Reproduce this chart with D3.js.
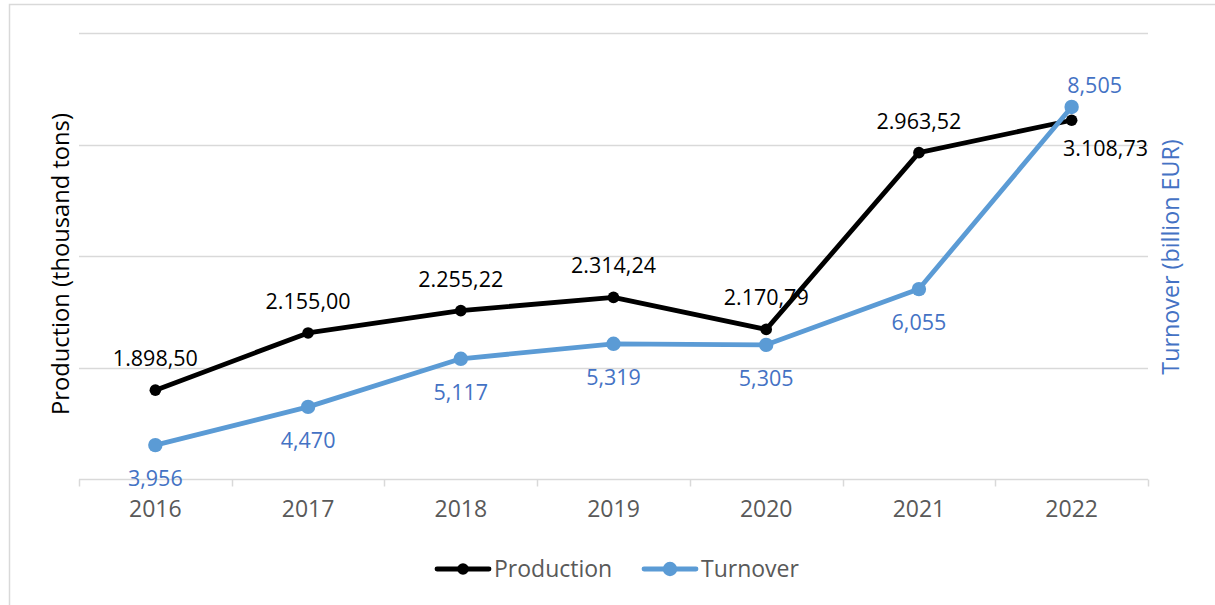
<!DOCTYPE html>
<html>
<head>
<meta charset="utf-8">
<script src="https://cdn.jsdelivr.net/npm/d3@7"></script>
<style>
  html, body { margin: 0; padding: 0; background: #fff; }
  svg { display: block; font-family: "Open Sans", "Noto Sans", sans-serif; }
</style>
</head>
<body>
<svg id="chart" width="1215" height="605"></svg>
<script>
// Annual production (thousand tons) and turnover (billion EUR)
const years = ["2016", "2017", "2018", "2019", "2020", "2021", "2022"];
const production = [1898.50, 2155.00, 2255.22, 2314.24, 2170.79, 2963.52, 3108.73];
const turnover = [3.956, 4.470, 5.117, 5.319, 5.305, 6.055, 8.505];
const productionTicks = [1500, 2000, 2500, 3000, 3500];
const turnoverTicks = [3.5, 5, 6.5, 8, 9.5];
const seriesNames = ["Production", "Turnover"];

const svg = d3.select("#chart");
const W = 1215, H = 605;
const plot = { left: 79, right: 1148, top: 33, bottom: 479 };

const colProd = "#000000";
const colTurn = "#5B9BD5";
const colTurnText = "#4472C4";
const colGrid = "#D9D9D9";
const colAxisText = "#595959";

// Outer chart frame
svg.append("rect")
  .attr("x", 9.5).attr("y", 4.5)
  .attr("width", W + 50).attr("height", H + 50)
  .attr("fill", "#fff").attr("stroke", colGrid).attr("stroke-width", 1.5);

const x = d3.scaleBand().domain(years).range([plot.left, plot.right]).paddingInner(0).paddingOuter(0);
const cx = d => x(d) + x.bandwidth() / 2;
const yL = d3.scaleLinear().domain([productionTicks[0], productionTicks[productionTicks.length - 1]]).range([plot.bottom, plot.top]);
const yR = d3.scaleLinear().domain([turnoverTicks[0], turnoverTicks[turnoverTicks.length - 1]]).range([plot.bottom, plot.top]);

// Horizontal gridlines
svg.append("g")
  .selectAll("line")
  .data(productionTicks.slice(1))
  .join("line")
  .attr("x1", plot.left).attr("x2", plot.right)
  .attr("y1", d => Math.round(yL(d)) + 0.5).attr("y2", d => Math.round(yL(d)) + 0.5)
  .attr("stroke", colGrid).attr("stroke-width", 1.5);

// Category axis: baseline, boundary ticks and year labels
const axisY = Math.round(yL(productionTicks[0])) + 0.5;
svg.append("line")
  .attr("x1", plot.left).attr("x2", plot.right)
  .attr("y1", axisY).attr("y2", axisY)
  .attr("stroke", colGrid).attr("stroke-width", 1.5);
const bounds = years.map(d => x(d)).concat([plot.right]);
svg.append("g").selectAll("line").data(bounds).join("line")
  .attr("x1", d => Math.round(d) + 0.5).attr("x2", d => Math.round(d) + 0.5)
  .attr("y1", axisY).attr("y2", axisY + 7)
  .attr("stroke", colGrid).attr("stroke-width", 1.5);

const xAxis = svg.append("g")
  .attr("transform", `translate(0,${axisY})`)
  .call(d3.axisBottom(x).tickSize(0).tickPadding(21));
xAxis.select(".domain").remove();
xAxis.selectAll("text")
  .attr("fill", colAxisText)
  .style("font-size", "23px")
  .style("font-family", '"Open Sans", sans-serif');

// Axis titles
svg.append("text")
  .attr("transform", `translate(69,${(plot.top + plot.bottom) / 2 + 8}) rotate(-90)`)
  .attr("text-anchor", "middle")
  .attr("fill", "#000")
  .style("font-size", "23.7px")
  .text("Production (thousand tons)");
svg.append("text")
  .attr("transform", `translate(1179,${(plot.top + plot.bottom) / 2 + 1}) rotate(-90)`)
  .attr("text-anchor", "middle")
  .attr("fill", colTurnText)
  .style("font-size", "23.3px")
  .text("Turnover (billion EUR)");

// Lines
const lineProd = d3.line().x((d, i) => cx(years[i])).y(d => yL(d));
const lineTurn = d3.line().x((d, i) => cx(years[i])).y(d => yR(d));

svg.append("path").datum(production)
  .attr("d", lineProd).attr("fill", "none")
  .attr("stroke", colProd).attr("stroke-width", 4.8).attr("stroke-linejoin", "round");
svg.append("g").selectAll("circle").data(production).join("circle")
  .attr("cx", (d, i) => cx(years[i])).attr("cy", d => yL(d))
  .attr("r", 5.8).attr("fill", colProd);

svg.append("path").datum(turnover)
  .attr("d", lineTurn).attr("fill", "none")
  .attr("stroke", colTurn).attr("stroke-width", 4.8).attr("stroke-linejoin", "round");
svg.append("g").selectAll("circle").data(turnover).join("circle")
  .attr("cx", (d, i) => cx(years[i])).attr("cy", d => yR(d))
  .attr("r", 7.2).attr("fill", colTurn);

// Data labels (European number format)
const eu = d3.formatLocale({ decimal: ",", thousands: ".", grouping: [3], currency: ["", "€"] });
const fmtProd = eu.format(",.2f");
const fmtTurn = eu.format(".3f");
const last = years.length - 1;

svg.append("g").selectAll("text").data(production).join("text")
  .attr("x", (d, i) => i === last ? plot.right : cx(years[i]))
  .attr("y", (d, i) => yL(d) + (i === last ? 36 : -24))
  .attr("text-anchor", (d, i) => i === last ? "end" : "middle")
  .attr("fill", "#000")
  .style("font-size", "21.5px")
  .text(d => fmtProd(d));

svg.append("g").selectAll("text").data(turnover).join("text")
  .attr("x", (d, i) => cx(years[i]) + (i === last ? 23 : 0))
  .attr("y", (d, i) => yR(d) + (i === last ? -14 : 41))
  .attr("text-anchor", "middle")
  .attr("fill", colTurnText)
  .style("font-size", "21.5px")
  .text(d => fmtTurn(d));

// Legend
const legend = svg.append("g").attr("transform", "translate(0,569)");
const legendItems = [
  { name: seriesNames[0], color: colProd, r: 5.8, x0: 437 },
  { name: seriesNames[1], color: colTurn, r: 7.2, x0: 644 }
];
legendItems.forEach(it => {
  legend.append("line")
    .attr("x1", it.x0).attr("x2", it.x0 + 52)
    .attr("y1", 0).attr("y2", 0)
    .attr("stroke", it.color).attr("stroke-width", 4.8).attr("stroke-linecap", "round");
  legend.append("circle").attr("cx", it.x0 + 26).attr("cy", 0).attr("r", it.r).attr("fill", it.color);
  legend.append("text")
    .attr("x", it.x0 + 57).attr("y", 8)
    .attr("fill", colAxisText)
    .style("font-size", "23px")
    .text(it.name);
});
</script>
</body>
</html>
